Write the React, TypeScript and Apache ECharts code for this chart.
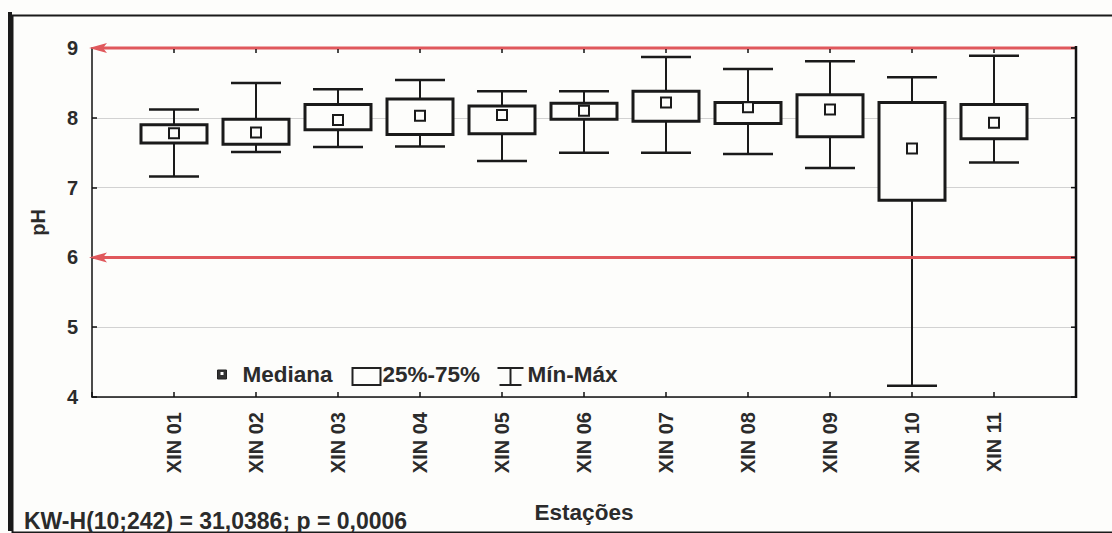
import React, { useEffect, useRef } from "react";
import * as echarts from "echarts";

const stations = ["XIN 01", "XIN 02", "XIN 03", "XIN 04", "XIN 05", "XIN 06", "XIN 07", "XIN 08", "XIN 09", "XIN 10", "XIN 11"];
const minVals = [7.16, 7.51, 7.58, 7.59, 7.38, 7.50, 7.50, 7.48, 7.28, 4.16, 7.36];
const q1Vals = [7.64, 7.62, 7.83, 7.76, 7.77, 7.98, 7.95, 7.92, 7.73, 6.82, 7.70];
const medianVals = [7.78, 7.79, 7.97, 8.03, 8.04, 8.10, 8.22, 8.15, 8.12, 7.56, 7.93];
const q3Vals = [7.90, 7.98, 8.19, 8.27, 8.17, 8.21, 8.38, 8.22, 8.33, 8.22, 8.19];
const maxVals = [8.12, 8.50, 8.41, 8.54, 8.38, 8.38, 8.87, 8.70, 8.81, 8.58, 8.89];
const limitLines = [9, 6];
const yTickVals = [4, 5, 6, 7, 8, 9];
const yMin = 4;
const yMax = 9;
const legendLabels = ["Mediana", "25%-75%", "Mín-Máx"];
const statText = "KW-H(10;242) = 31,0386; p = 0,0006";
const xTitle = "Estações";
const yTitle = "pH";

const FONT = "'Liberation Sans', Arial, sans-serif";
const INK = "#2b2b2b";
const BG = "#fdfdfb";

export default function App() {
  const ref = useRef<HTMLDivElement>(null);

  useEffect(() => {
    document.body.style.margin = "0";
    document.body.style.overflow = "hidden";
    const chart = echarts.init(ref.current!, null, { renderer: "svg" });
    const boxData = stations.map((_, i) => [i + 1, minVals[i], q1Vals[i], medianVals[i], q3Vals[i], maxVals[i]]);
    const xMax = stations.length + 1;

    const option: any = {
      animation: false,
      backgroundColor: BG,
      textStyle: { fontFamily: FONT },
      grid: { left: 92, right: 36, top: 48, bottom: 136 },
      xAxis: {
        type: "value",
        min: 0,
        max: xMax,
        interval: 1,
        position: "bottom",
        name: xTitle,
        nameLocation: "middle",
        nameGap: 104,
        nameTextStyle: { fontSize: 22.5, fontWeight: "bold", color: INK, fontFamily: FONT },
        axisLine: { show: true, onZero: false, lineStyle: { color: "#111", width: 1.5 } },
        axisTick: { show: true, inside: true, length: 5, lineStyle: { color: "#111", width: 1.5 } },
        axisLabel: {
          rotate: 90,
          margin: 15,
          fontSize: 20,
          fontWeight: "bold",
          color: INK,
          fontFamily: FONT,
          formatter: (v: number) => (v >= 1 && v <= stations.length ? stations[v - 1] : ""),
        },
        splitLine: { show: false },
      },
      yAxis: {
        type: "value",
        min: yMin,
        max: yMax,
        interval: 1,
        position: "left",
        name: yTitle,
        nameLocation: "middle",
        nameGap: 44,
        nameTextStyle: { fontSize: 20, fontWeight: "bold", color: INK, fontFamily: FONT },
        axisLine: { show: true, onZero: false, lineStyle: { color: "#111", width: 1.5 } },
        axisTick: { show: true, inside: true, length: 5, lineStyle: { color: "#111", width: 1.5 } },
        axisLabel: { margin: 14, fontSize: 20, fontWeight: "bold", color: INK, fontFamily: FONT },
        splitLine: { show: true, lineStyle: { color: "#d2d2d2", width: 1 } },
      },
      series: [
        {
          type: "custom",
          name: "frame",
          clip: false,
          z: 6,
          data: [[0, yMax]],
          renderItem: (params: any, api: any) => {
            const right = api.coord([xMax, yMax])[0];
            const top = api.coord([0, yMax])[1];
            const bottom = api.coord([0, yMin])[1];
            const children: any[] = [
              { type: "line", shape: { x1: right, y1: top - 2, x2: right, y2: bottom + 1 }, style: { stroke: "#111", lineWidth: 2.5 } },
            ];
            stations.forEach((_, i) => {
              const x = api.coord([i + 1, yMax])[0];
              children.push({ type: "line", shape: { x1: x, y1: top + 1, x2: x, y2: top + 5 }, style: { stroke: "#111", lineWidth: 1.5 } });
            });
            yTickVals.forEach((v) => {
              const y = api.coord([0, v])[1];
              children.push({ type: "line", shape: { x1: right - 5, y1: y, x2: right, y2: y }, style: { stroke: "#111", lineWidth: 1.5 } });
            });
            return { type: "group", children };
          },
        },
        {
          type: "custom",
          name: "limits",
          clip: false,
          z: 5,
          data: limitLines.map((v) => [0, v]),
          renderItem: (params: any, api: any) => {
            const y = api.coord([0, api.value(1)])[1];
            const x0 = api.coord([0, api.value(1)])[0] - 3;
            const x1 = api.coord([xMax, api.value(1)])[0] - 1;
            const red = "#e0585c";
            return {
              type: "group",
              children: [
                { type: "line", shape: { x1: x0 + 8, y1: y, x2: x1, y2: y }, style: { stroke: red, lineWidth: 3 } },
                {
                  type: "polygon",
                  shape: { points: [[x0, y], [x0 + 18, y - 5], [x0 + 14, y], [x0 + 18, y + 5]] },
                  style: { fill: red },
                },
              ],
            };
          },
        },
        {
          type: "custom",
          name: "boxes",
          z: 4,
          data: boxData,
          renderItem: (params: any, api: any) => {
            const x = api.coord([api.value(0), 0])[0];
            const yMinP = api.coord([0, api.value(1)])[1];
            const yQ1 = api.coord([0, api.value(2)])[1];
            const yMed = api.coord([0, api.value(3)])[1];
            const yQ3 = api.coord([0, api.value(4)])[1];
            const yMaxP = api.coord([0, api.value(5)])[1];
            const boxW = 66;
            const capW = 50;
            const sq = 10;
            const ink = "#1a1a1a";
            return {
              type: "group",
              children: [
                { type: "line", shape: { x1: x, y1: yMaxP, x2: x, y2: yQ3 }, style: { stroke: ink, lineWidth: 2 } },
                { type: "line", shape: { x1: x, y1: yQ1, x2: x, y2: yMinP }, style: { stroke: ink, lineWidth: 2 } },
                { type: "line", shape: { x1: x - capW / 2, y1: yMaxP, x2: x + capW / 2, y2: yMaxP }, style: { stroke: ink, lineWidth: 2.5 } },
                { type: "line", shape: { x1: x - capW / 2, y1: yMinP, x2: x + capW / 2, y2: yMinP }, style: { stroke: ink, lineWidth: 2.5 } },
                {
                  type: "rect",
                  shape: { x: x - boxW / 2, y: yQ3, width: boxW, height: yQ1 - yQ3 },
                  style: { fill: BG, stroke: ink, lineWidth: 3 },
                },
                {
                  type: "rect",
                  shape: { x: x - sq / 2, y: yMed - sq / 2, width: sq, height: sq },
                  style: { fill: BG, stroke: ink, lineWidth: 2 },
                },
              ],
            };
          },
        },
      ],
      graphic: [
        {
          type: "rect",
          left: 10,
          top: 13,
          shape: { width: 1120, height: 517 },
          style: { fill: "none", stroke: "#1a1a1a", lineWidth: 2 },
          z: 10,
        },
        {
          type: "line",
          shape: { x1: 10, y1: 12, x2: 10, y2: 531 },
          style: { stroke: "#1a1a1a", lineWidth: 4 },
          z: 10,
        },
        {
          type: "text",
          left: 24,
          top: 509,
          style: { text: statText, fontSize: 23, fontWeight: "bold", fill: INK, fontFamily: FONT },
          z: 10,
        },
        {
          type: "group",
          left: 217,
          top: 363,
          z: 10,
          children: [
            { type: "rect", shape: { x: 0, y: 7, width: 9, height: 9 }, style: { fill: "#333", stroke: "#222", lineWidth: 1 } },
            { type: "rect", shape: { x: 3, y: 9, width: 3, height: 3 }, style: { fill: "#fff" } },
            { type: "text", x: 25, y: 0, style: { text: legendLabels[0], fontSize: 22.5, fontWeight: "bold", fill: INK, fontFamily: FONT } },
            { type: "rect", shape: { x: 135, y: 5, width: 28, height: 17 }, style: { fill: "none", stroke: "#222", lineWidth: 2 } },
            { type: "text", x: 165, y: 0, style: { text: legendLabels[1], fontSize: 22.5, fontWeight: "bold", fill: INK, fontFamily: FONT } },
            { type: "line", shape: { x1: 280, y1: 5, x2: 306, y2: 5 }, style: { stroke: "#222", lineWidth: 2 } },
            { type: "line", shape: { x1: 293, y1: 5, x2: 293, y2: 22 }, style: { stroke: "#222", lineWidth: 2 } },
            { type: "line", shape: { x1: 282, y1: 22, x2: 304, y2: 22 }, style: { stroke: "#222", lineWidth: 2 } },
            { type: "text", x: 310, y: 0, style: { text: legendLabels[2], fontSize: 22.5, fontWeight: "bold", fill: INK, fontFamily: FONT } },
          ],
        },
      ],
    };

    chart.setOption(option);
    return () => chart.dispose();
  }, []);

  return <div ref={ref} style={{ position: "fixed", left: 0, top: 0, width: 1112, height: 533 }} />;
}
